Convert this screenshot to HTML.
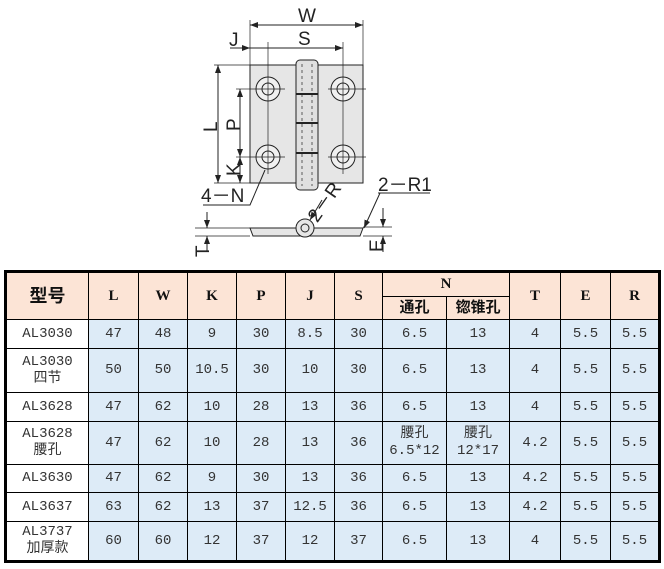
<!DOCTYPE html>
<html><head><meta charset="utf-8"><style>
body{margin:0;width:664px;height:569px;background:#fff;position:relative;overflow:hidden;font-family:"Liberation Mono","Noto Serif CJK SC",monospace;}
svg{position:absolute;left:0;top:0}
table{position:absolute;left:4px;top:270px;border-collapse:collapse;border:3px solid #000;table-layout:fixed}
td{border:1px solid #000;text-align:center;font-size:14px;color:#333;padding:0;line-height:17px;background:#ddebf7}
td.m{background:#fff}
tr.h td{background:#fce4d6;font-weight:bold;color:#111;font-size:15px;font-family:"Liberation Serif",serif}
.cj{font-family:"Liberation Mono","Noto Sans CJK SC",sans-serif}
tr.h td.cj{font-family:"Liberation Serif","Noto Sans CJK SC",sans-serif}
</style></head><body>
<svg width="664" height="270" viewBox="0 0 664 270" font-family="Liberation Sans, sans-serif" fill="none" stroke="#222" stroke-width="1">
<defs><marker id="a" markerWidth="8" markerHeight="6" refX="8" refY="3" orient="auto-start-reverse"><path d="M0,0 L8,3 L0,6z" fill="#222" stroke="none"/></marker></defs>
<rect x="250" y="65" width="113" height="118" fill="#e6e6e6"/>
<rect x="296" y="60" width="22" height="130" rx="4" fill="#e0e0e0"/>
<line x1="296" y1="94" x2="318" y2="94" stroke-width="2"/><line x1="296" y1="123" x2="318" y2="123" stroke-width="2"/><line x1="296" y1="153" x2="318" y2="153" stroke-width="2"/>
<g stroke-dasharray="3,3" stroke-width="0.7"><line x1="302" y1="64" x2="302" y2="186"/><line x1="312" y1="64" x2="312" y2="186"/></g>
<g fill="#f0f0f0"><circle cx="268" cy="89" r="12"/><circle cx="343" cy="89" r="12"/><circle cx="268" cy="157" r="12"/><circle cx="343" cy="157" r="12"/></g>
<g><circle cx="268" cy="89" r="6"/><circle cx="343" cy="89" r="6"/><circle cx="268" cy="157" r="6"/><circle cx="343" cy="157" r="6"/></g>
<g stroke-width="0.7"><line x1="250" y1="89" x2="285" y2="89"/><line x1="328" y1="89" x2="366" y2="89"/><line x1="250" y1="157" x2="285" y2="157"/><line x1="328" y1="157" x2="366" y2="157"/>
<line x1="268" y1="42" x2="268" y2="174"/><line x1="343" y1="42" x2="343" y2="174"/>
<line x1="250" y1="20" x2="250" y2="65"/><line x1="363" y1="20" x2="363" y2="65"/>
<line x1="214" y1="65" x2="250" y2="65"/><line x1="214" y1="183" x2="250" y2="183"/><line x1="236" y1="89" x2="250" y2="89"/><line x1="236" y1="157" x2="250" y2="157"/></g>
<line x1="250" y1="25" x2="363" y2="25" marker-start="url(#a)" marker-end="url(#a)"/>
<line x1="230" y1="48" x2="343" y2="48" marker-end="url(#a)"/><line x1="232" y1="48" x2="250" y2="48" marker-end="url(#a)"/>
<line x1="218" y1="65" x2="218" y2="183" marker-start="url(#a)" marker-end="url(#a)"/>
<line x1="240" y1="89" x2="240" y2="157" marker-start="url(#a)" marker-end="url(#a)"/>
<line x1="240" y1="157" x2="240" y2="183" marker-start="url(#a)" marker-end="url(#a)"/>
<polyline points="203,205 250,205 265,170" />
<g fill="#222" stroke="none" font-size="19">
<text x="298" y="22">W</text><text x="298" y="45">S</text><text x="229" y="46">J</text>
<text x="204" y="131" transform="rotate(-90 211 125)">L</text><text x="228" y="131" transform="rotate(-90 234 125)">P</text><text x="228" y="176" transform="rotate(-90 234 170)">K</text>
<text x="201" y="202">4－N</text><text x="378" y="191">2－R1</text>
<text x="304" y="222" transform="rotate(-55 312 210)">2－R</text>
<text x="196" y="256" transform="rotate(-90 203 250)">T</text><text x="370" y="251" transform="rotate(-90 377 245)">E</text>
</g>
<polygon points="250,228 363,228 360,236 253,236" fill="#e6e6e6"/>
<circle cx="305" cy="228" r="9" fill="#e6e6e6"/><circle cx="305" cy="228" r="4"/>
<polyline points="378,193 430,193"/><line x1="380" y1="193" x2="364" y2="228" marker-end="url(#a)"/>
<line x1="322" y1="200" x2="310" y2="220" marker-end="url(#a)"/>
<g stroke-width="0.7"><line x1="195" y1="228" x2="250" y2="228"/><line x1="195" y1="236" x2="250" y2="236"/><line x1="363" y1="227" x2="392" y2="227"/><line x1="363" y1="236" x2="392" y2="236"/></g>
<line x1="207" y1="212" x2="207" y2="228" marker-end="url(#a)"/><line x1="207" y1="252" x2="207" y2="236" marker-end="url(#a)"/>
<line x1="383" y1="208" x2="383" y2="227" marker-end="url(#a)"/><line x1="383" y1="252" x2="383" y2="236" marker-end="url(#a)"/>
</svg>
<table>
<colgroup><col style="width:83px"><col style="width:50px"><col style="width:49px"><col style="width:49px"><col style="width:49px"><col style="width:49px"><col style="width:48px"><col style="width:64px"><col style="width:63px"><col style="width:51px"><col style="width:50px"><col style="width:49px"></colgroup>
<tr class="h" style="height:25px"><td rowspan="2" class="cj" style="font-size:18px">型号</td><td rowspan="2">L</td><td rowspan="2">W</td><td rowspan="2">K</td><td rowspan="2">P</td><td rowspan="2">J</td><td rowspan="2">S</td><td colspan="2">N</td><td rowspan="2">T</td><td rowspan="2">E</td><td rowspan="2">R</td></tr>
<tr class="h" style="height:23px"><td class="cj">通孔</td><td class="cj">锪锥孔</td></tr>
<tr style="height:29px"><td class="m">AL3030</td><td>47</td><td>48</td><td>9</td><td>30</td><td>8.5</td><td>30</td><td>6.5</td><td>13</td><td>4</td><td>5.5</td><td>5.5</td></tr>
<tr style="height:44px"><td class="m cj">AL3030<br>四节</td><td>50</td><td>50</td><td>10.5</td><td>30</td><td>10</td><td>30</td><td>6.5</td><td>13</td><td>4</td><td>5.5</td><td>5.5</td></tr>
<tr style="height:29px"><td class="m">AL3628</td><td>47</td><td>62</td><td>10</td><td>28</td><td>13</td><td>36</td><td>6.5</td><td>13</td><td>4</td><td>5.5</td><td>5.5</td></tr>
<tr style="height:43px"><td class="m cj">AL3628<br>腰孔</td><td>47</td><td>62</td><td>10</td><td>28</td><td>13</td><td>36</td><td class="cj">腰孔<br>6.5*12</td><td class="cj">腰孔<br>12*17</td><td>4.2</td><td>5.5</td><td>5.5</td></tr>
<tr style="height:28px"><td class="m">AL3630</td><td>47</td><td>62</td><td>9</td><td>30</td><td>13</td><td>36</td><td>6.5</td><td>13</td><td>4.2</td><td>5.5</td><td>5.5</td></tr>
<tr style="height:29px"><td class="m">AL3637</td><td>63</td><td>62</td><td>13</td><td>37</td><td>12.5</td><td>36</td><td>6.5</td><td>13</td><td>4.2</td><td>5.5</td><td>5.5</td></tr>
<tr style="height:40px"><td class="m cj">AL3737<br>加厚款</td><td>60</td><td>60</td><td>12</td><td>37</td><td>12</td><td>37</td><td>6.5</td><td>13</td><td>4</td><td>5.5</td><td>5.5</td></tr>
</table>
</body></html>
